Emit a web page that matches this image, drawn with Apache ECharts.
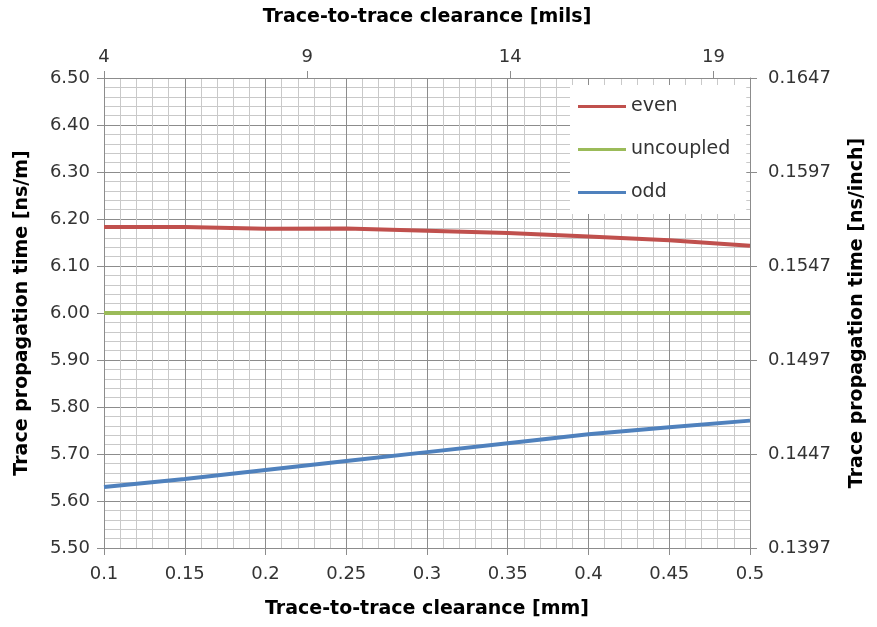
<!DOCTYPE html>
<html>
<head>
<meta charset="utf-8">
<script src="https://cdn.jsdelivr.net/npm/echarts@6/dist/echarts.min.js"></script>
<style>
html,body{margin:0;padding:0;background:#fff;}
#chart{width:877px;height:627px;}
</style>
</head>
<body>
<div id="chart"></div>
<script>
// Data
const clearanceMm = [0.1, 0.15, 0.2, 0.25, 0.3, 0.35, 0.4, 0.45, 0.5];
const evenNsPerM = [6.183, 6.183, 6.179, 6.180, 6.175, 6.170, 6.163, 6.155, 6.143];
const uncoupledNsPerM = [6.00, 6.00, 6.00, 6.00, 6.00, 6.00, 6.00, 6.00, 6.00];
const oddNsPerM = [5.630, 5.647, 5.666, 5.685, 5.704, 5.723, 5.742, 5.757, 5.771];
const seriesNames = ['even', 'uncoupled', 'odd'];
const milsTickStart = 4;          // first top-axis label
const milsTickStep = 5;           // 4, 9, 14, 19
const milsAxisEnd = 19.9;
const nsInchStart = 0.1397;       // right-axis labels 0.1397 ... 0.1647
const nsInchStep = 0.005;
const nsInchEnd = 0.1647;

const FONT = 'DejaVu Sans';
const labelStyle = {color: '#333', fontSize: 18, fontFamily: FONT};
const nameStyle = {color: '#000', fontSize: 19, fontWeight: 'bold', fontFamily: FONT};
const majorGrid = '#8c8c8c';
const minorGrid = '#c9c9c9';
const axisColor = '#8c8c8c';

const chart = echarts.init(document.getElementById('chart'), null, {renderer: 'canvas'});

const zip = (xs, ys) => xs.map((x, i) => [x, ys[i]]);
const SCALE = 10000;

const option = {
  animation: false,
  backgroundColor: '#fff',
  grid: {left: 104, right: 127, top: 78, bottom: 79, show: false},
  legend: {
    data: seriesNames,
    orient: 'vertical',
    left: 570,
    top: 85,
    backgroundColor: '#fff',
    padding: [12, 16, 12, 8],
    itemWidth: 48,
    itemHeight: 3,
    icon: 'rect',
    itemGap: 24,
    textStyle: {color: '#333', fontSize: 19, fontFamily: FONT},
    z: 4
  },
  xAxis: [
    {
      type: 'value', position: 'bottom',
      min: clearanceMm[0], max: clearanceMm[clearanceMm.length - 1], interval: 0.05,
      name: 'Trace-to-trace clearance [mm]', nameLocation: 'middle', nameGap: 52,
      nameTextStyle: nameStyle,
      axisLine: {show: true, onZero: false, lineStyle: {color: axisColor, width: 1}},
      axisTick: {show: true, length: 7, lineStyle: {color: axisColor}},
      axisLabel: Object.assign({margin: 17}, labelStyle),
      splitLine: {show: true, lineStyle: {color: majorGrid, width: 1}},
      minorTick: {show: false, splitNumber: 5},
      minorSplitLine: {show: true, lineStyle: {color: minorGrid, width: 1}}
    },
    {
      type: 'value', position: 'top',
      min: 0, max: milsAxisEnd - milsTickStart, interval: milsTickStep,
      name: 'Trace-to-trace clearance [mils]', nameLocation: 'middle', nameGap: 51,
      nameTextStyle: nameStyle,
      axisLine: {show: true, onZero: false, lineStyle: {color: axisColor, width: 1}},
      axisTick: {show: true, length: 7, lineStyle: {color: axisColor}},
      axisLabel: Object.assign({margin: 12, showMaxLabel: false,
        formatter: v => String(Math.round(v + milsTickStart))}, labelStyle),
      splitLine: {show: false}
    }
  ],
  yAxis: [
    {
      type: 'value', position: 'left',
      min: 5.5, max: 6.5, interval: 0.1,
      name: 'Trace propagation time [ns/m]', nameLocation: 'middle', nameGap: 72,
      nameTextStyle: nameStyle,
      axisLine: {show: true, onZero: false, lineStyle: {color: axisColor, width: 1}},
      axisTick: {show: true, length: 7, lineStyle: {color: axisColor}},
      axisLabel: Object.assign({margin: 14, formatter: v => v.toFixed(2)}, labelStyle),
      splitLine: {show: true, lineStyle: {color: majorGrid, width: 1}},
      minorTick: {show: false, splitNumber: 5},
      minorSplitLine: {show: true, lineStyle: {color: minorGrid, width: 1}}
    },
    {
      type: 'value', position: 'right',
      min: 0, max: Math.round((nsInchEnd - nsInchStart) * SCALE), interval: Math.round(nsInchStep * SCALE),
      name: 'Trace propagation time [ns/inch]', nameLocation: 'middle', nameGap: 98,
      nameTextStyle: nameStyle,
      axisLine: {show: true, onZero: false, lineStyle: {color: axisColor, width: 1}},
      axisTick: {show: true, length: 7, lineStyle: {color: axisColor}},
      axisLabel: Object.assign({margin: 18,
        formatter: v => (nsInchStart + v / SCALE).toFixed(4)}, labelStyle),
      splitLine: {show: false},
      z: 5
    }
  ],
  series: [
    {name: seriesNames[0], type: 'line', data: zip(clearanceMm, evenNsPerM), symbol: 'none',
     lineStyle: {color: '#C0504D', width: 4}, itemStyle: {color: '#C0504D'}, z: 3},
    {name: seriesNames[1], type: 'line', data: zip(clearanceMm, uncoupledNsPerM), symbol: 'none',
     lineStyle: {color: '#9BBB59', width: 4}, itemStyle: {color: '#9BBB59'}, z: 3},
    {name: seriesNames[2], type: 'line', data: zip(clearanceMm, oddNsPerM), symbol: 'none',
     lineStyle: {color: '#4F81BD', width: 4}, itemStyle: {color: '#4F81BD'}, z: 3}
  ]
};
chart.setOption(option);
</script>
</body>
</html>
